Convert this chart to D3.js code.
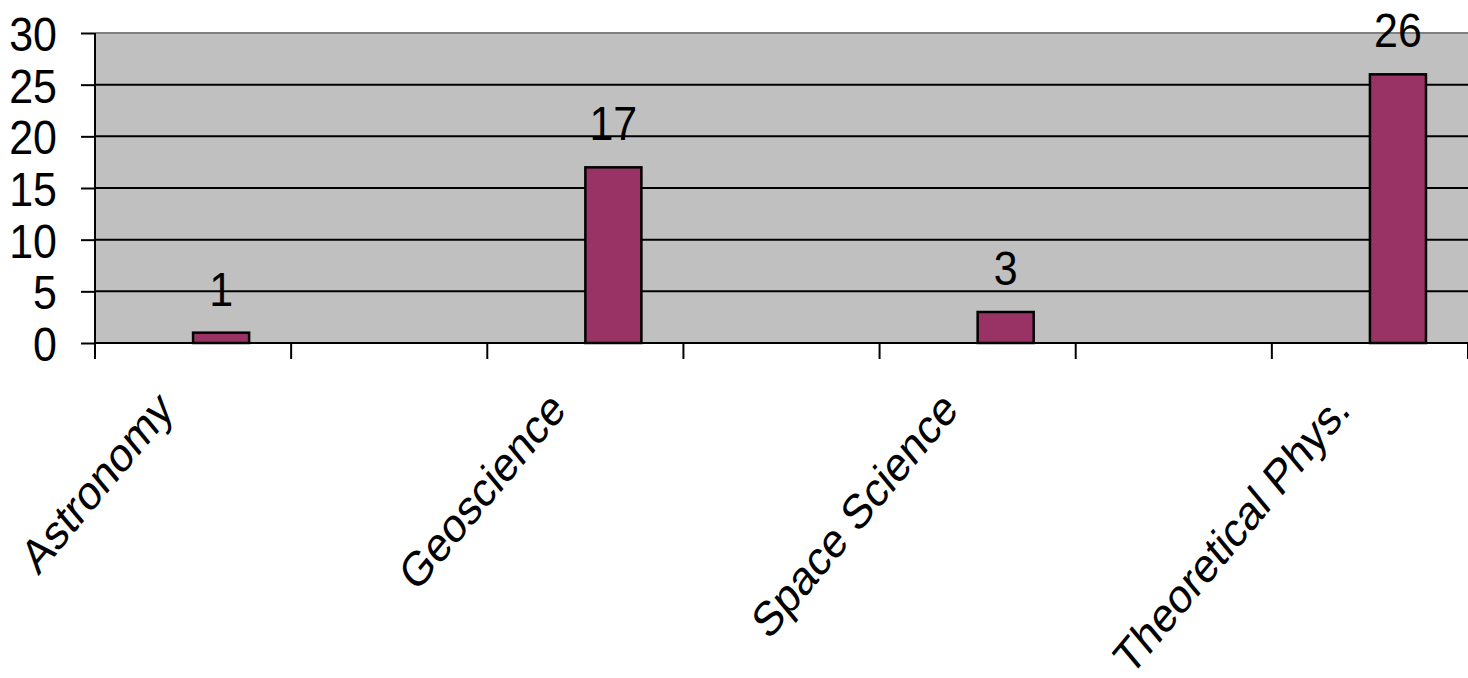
<!DOCTYPE html>
<html>
<head>
<meta charset="utf-8">
<script src="https://cdn.jsdelivr.net/npm/d3@7"></script>
<style>
  body { margin: 0; background: #fff; }
  svg { display: block; font-family: "Liberation Sans", Arial, sans-serif; }
</style>
</head>
<body>
<div id="chart"></div>
<script>
var width = 1468;
var height = 678;

// categories (only every other one carries a label in the original)
var categories = ['Astronomy', 'c2', 'Geoscience', 'c4', 'Space Science', 'c6', 'Theoretical Phys.'];
var categoryLabels = ['Astronomy', '', 'Geoscience', '', 'Space Science', '', 'Theoretical Phys.'];
var seriesNames = ['empty', 'count'];
var emptyValues = [null, null, null, null, null, null, null];
var countValues = [1, null, 17, null, 3, null, 26];
var yTicks = [0, 5, 10, 15, 20, 25, 30];

var plot = { left: 95, right: 1468, top: 33, bottom: 343 };
var stretch = 1.12;   // the original text is a bit taller than wide
var labelStretch = 1.2;

var svg = d3.select('#chart').append('svg')
    .attr('width', width)
    .attr('height', height);

var x = d3.scaleBand()
    .domain(categories)
    .range([plot.left, plot.right])
    .padding(0);

var xInner = d3.scaleBand()
    .domain(seriesNames)
    .range([0, x.bandwidth()])
    .paddingInner(0)
    .paddingOuter(0.75);

var y = d3.scaleLinear()
    .domain([0, 30])
    .range([plot.bottom, plot.top]);

// plot background
svg.append('rect')
    .attr('x', plot.left)
    .attr('y', plot.top)
    .attr('width', plot.right - plot.left)
    .attr('height', plot.bottom - plot.top)
    .attr('fill', '#c0c0c0');

// top border
svg.append('line')
    .attr('x1', plot.left).attr('x2', plot.right)
    .attr('y1', plot.top).attr('y2', plot.top)
    .attr('stroke', '#808080')
    .attr('stroke-width', 2);

// gridlines
svg.append('g')
    .selectAll('line')
    .data(yTicks.filter(function (d) { return d > 0 && d < 30; }))
    .enter().append('line')
    .attr('x1', plot.left).attr('x2', plot.right)
    .attr('y1', function (d) { return y(d); })
    .attr('y2', function (d) { return y(d); })
    .attr('stroke', '#000')
    .attr('stroke-width', 2);

// bars
var rows = categories.map(function (c, i) {
    return { cat: c, values: [emptyValues[i], countValues[i]] };
});

function present(d) {
    return seriesNames.map(function (s, j) { return { s: s, v: d.values[j] }; })
        .filter(function (e) { return e.v != null; });
}

var groups = svg.append('g')
    .selectAll('g')
    .data(rows)
    .enter().append('g')
    .attr('transform', function (d) { return 'translate(' + x(d.cat) + ',0)'; });

groups.selectAll('rect')
    .data(present)
    .enter().append('rect')
    .attr('x', function (d) { return xInner(d.s); })
    .attr('y', function (d) { return y(d.v); })
    .attr('width', xInner.bandwidth())
    .attr('height', function (d) { return y(0) - y(d.v); })
    .attr('fill', '#993366')
    .attr('stroke', '#000')
    .attr('stroke-width', 2.5);

// data labels
groups.selectAll('text')
    .data(present)
    .enter().append('text')
    .attr('transform', function (d) {
        var lx = xInner(d.s) + xInner.bandwidth() / 2;
        return 'translate(' + lx + ',' + (y(d.v) - 27) + ') scale(1,' + stretch + ')';
    })
    .attr('text-anchor', 'middle')
    .attr('font-size', 43)
    .attr('fill', '#000')
    .text(function (d) { return d.v; });

// y axis
var yAxis = d3.axisLeft(y)
    .tickValues(yTicks)
    .tickSize(14)
    .tickPadding(24)
    .tickFormat(d3.format('d'));

var gy = svg.append('g')
    .attr('transform', 'translate(' + plot.left + ',0)')
    .call(yAxis);
gy.select('.domain').remove();
gy.append('line')
    .attr('x1', 0).attr('x2', 0)
    .attr('y1', plot.top).attr('y2', plot.bottom)
    .attr('stroke', '#000').attr('stroke-width', 2);
gy.selectAll('.tick line').attr('stroke', '#000').attr('stroke-width', 2);
gy.selectAll('.tick text')
    .attr('font-size', 43)
    .attr('font-family', '"Liberation Sans", Arial, sans-serif')
    .attr('fill', '#000')
    .attr('y', 0)
    .attr('dy', '0.36em')
    .attr('transform', 'scale(1,' + stretch + ')');

// x axis
var xTickPos = categories.map(function (c) { return x(c); }).concat([plot.right]);

svg.append('line')
    .attr('x1', plot.left).attr('x2', plot.right)
    .attr('y1', plot.bottom).attr('y2', plot.bottom)
    .attr('stroke', '#000').attr('stroke-width', 2);

svg.append('g')
    .selectAll('line')
    .data(xTickPos)
    .enter().append('line')
    .attr('x1', function (d) { return d; })
    .attr('x2', function (d) { return d; })
    .attr('y1', plot.bottom)
    .attr('y2', plot.bottom + 16)
    .attr('stroke', '#000')
    .attr('stroke-width', 2);

svg.append('g')
    .selectAll('text')
    .data(categories)
    .enter().append('text')
    .attr('transform', function (d) {
        var cx = x(d) + x.bandwidth() / 2 - 18;
        return 'translate(' + cx + ',412) scale(1,' + labelStretch + ') rotate(-45)';
    })
    .attr('text-anchor', 'end')
    .attr('font-size', 40.5)
    .attr('fill', '#000')
    .text(function (d, i) { return categoryLabels[i]; });
</script>
</body>
</html>
